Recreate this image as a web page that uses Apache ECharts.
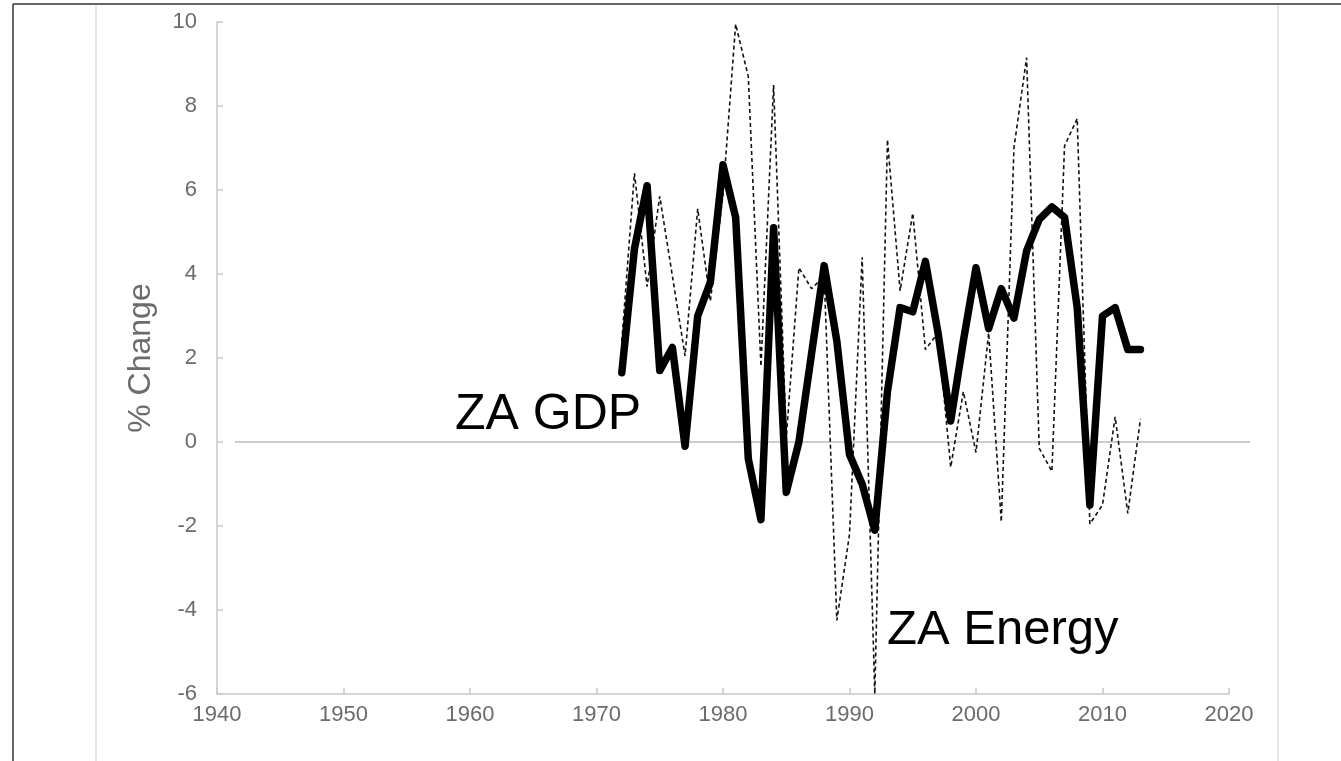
<!DOCTYPE html>
<html>
<head>
<meta charset="utf-8">
<title>ZA GDP vs Energy</title>
<script src="https://cdn.jsdelivr.net/npm/echarts@6/dist/echarts.min.js"></script>
<style>
  html, body { margin: 0; padding: 0; background: #fff; }
  #main { width: 1341px; height: 761px; }
</style>
</head>
<body>
<div id="main"></div>
<script>
// 年份
var years = [1972, 1973, 1974, 1975, 1976, 1977, 1978, 1979, 1980, 1981,
	1982, 1983, 1984, 1985, 1986, 1987, 1988, 1989, 1990, 1991,
	1992, 1993, 1994, 1995, 1996, 1997, 1998, 1999, 2000, 2001,
	2002, 2003, 2004, 2005, 2006, 2007, 2008, 2009, 2010, 2011,
	2012, 2013];
// ZA GDP % change
var gdp = [1.65, 4.6, 6.1, 1.7, 2.25, -0.1, 3.0, 3.8, 6.6, 5.35,
	-0.4, -1.85, 5.1, -1.2, 0.0, 2.1, 4.2, 2.4, -0.3, -1.0,
	-2.1, 1.2, 3.2, 3.1, 4.3, 2.6, 0.5, 2.4, 4.15, 2.7,
	3.65, 2.95, 4.55, 5.3, 5.6, 5.35, 3.2, -1.5, 3.0, 3.2,
	2.2, 2.2];
// ZA Energy % change
var energy = [2.4, 6.4, 3.7, 5.85, 3.95, 2.05, 5.55, 3.35, 5.9, 9.95,
	8.7, 1.8, 8.5, 0.1, 4.15, 3.65, 3.95, -4.25, -2.2, 4.4,
	-6.0, 7.2, 3.6, 5.45, 2.2, 2.6, -0.6, 1.2, -0.25, 2.6,
	-1.9, 7.0, 9.15, -0.15, -0.7, 7.05, 7.7, -1.95, -1.5, 0.6,
	-1.7, 0.55];
// 零线 (从左端到右端)
var zeroX = [0, 1];
var zeroY = [0, 0];

var font = "'Liberation Sans', 'Helvetica Neue', Arial, sans-serif";

function pairs(xs, ys) {
	var out = [];
	for (var i = 0; i < xs.length; i++) out.push([xs[i], ys[i]]);
	return out;
}

var chart = echarts.init(document.getElementById('main'), null, { renderer: 'canvas' });

var option = {
	backgroundColor: '#fff',
	animation: false,
	grid: [{
		left: 217,
		right: 112,
		top: 22,
		bottom: 67,
		containLabel: false,
		outerBoundsMode: 'none'
	}, {
		// 零线所在的网格, 比主网格略宽
		left: 235,
		right: 91,
		top: 22,
		bottom: 67,
		containLabel: false,
		outerBoundsMode: 'none'
	}],
	xAxis: [{
		type: 'value',
		min: 1940,
		max: 2020,
		interval: 10,
		axisLine: { show: true, onZero: false, lineStyle: { color: '#c8c8c8', width: 1.5 } },
		axisTick: { show: true, inside: true, length: 6, lineStyle: { color: '#c8c8c8', width: 1.5 } },
		splitLine: { show: false },
		axisLabel: {
			color: '#6b6b6b', fontSize: 22, fontFamily: font, margin: 10,
			formatter: function(v) { return String(v); }
		}
	}, {
		gridIndex: 1,
		type: 'value',
		min: 0,
		max: 1,
		show: false
	}],
	yAxis: [{
		type: 'value',
		min: -6,
		max: 10,
		interval: 2,
		name: '% Change',
		nameLocation: 'middle',
		nameGap: 60,
		nameRotate: 90,
		nameTextStyle: { color: '#6b6b6b', fontSize: 32, fontFamily: font },
		axisLine: { show: true, lineStyle: { color: '#c8c8c8', width: 1.5 } },
		axisTick: { show: true, inside: true, length: 6, lineStyle: { color: '#c8c8c8', width: 1.5 } },
		splitLine: { show: false },
		axisLabel: { color: '#6b6b6b', fontSize: 22, fontFamily: font, margin: 20 }
	}, {
		gridIndex: 1,
		type: 'value',
		min: -6,
		max: 10,
		show: false
	}],
	graphic: [
		// 外框
		{ type: 'line', shape: { x1: 13, y1: 4, x2: 1341, y2: 4 }, style: { stroke: '#333', lineWidth: 1.5 } },
		{ type: 'line', shape: { x1: 13, y1: 4, x2: 13, y2: 761 }, style: { stroke: '#333', lineWidth: 1.5 } },
		{ type: 'line', shape: { x1: 96, y1: 5, x2: 96, y2: 761 }, style: { stroke: '#dcdcdc', lineWidth: 1.5 } },
		{ type: 'line', shape: { x1: 1278, y1: 5, x2: 1278, y2: 761 }, style: { stroke: '#dcdcdc', lineWidth: 1.5 } },
		// 标注
		{ type: 'text', left: 455, top: 390, z: 100,
			style: { text: 'ZA GDP', fill: '#000', font: '50px ' + font } },
		{ type: 'text', left: 887, top: 606, z: 100,
			style: { text: 'ZA Energy', fill: '#000', font: '49px ' + font } }
	],
	series: [
		{
			// 零线
			name: 'zero',
			type: 'line',
			xAxisIndex: 1,
			yAxisIndex: 1,
			data: pairs(zeroX, zeroY),
			showSymbol: false,
			symbol: 'none',
			silent: true,
			lineStyle: { color: '#999', width: 1.2 },
			z: 2
		},
		{
			name: 'ZA Energy',
			type: 'line',
			data: pairs(years, energy),
			showSymbol: false,
			symbol: 'none',
			clip: false,
			lineStyle: { color: '#111', width: 1.6, type: [4, 3] },
			z: 3
		},
		{
			name: 'ZA GDP',
			type: 'line',
			data: pairs(years, gdp),
			showSymbol: false,
			symbol: 'none',
			lineStyle: { color: '#000', width: 7.5, join: 'round', cap: 'round' },
			z: 4
		}
	]
};

chart.setOption(option);
window.onresize = function() {
	chart.resize();
};
</script>
</body>
</html>
